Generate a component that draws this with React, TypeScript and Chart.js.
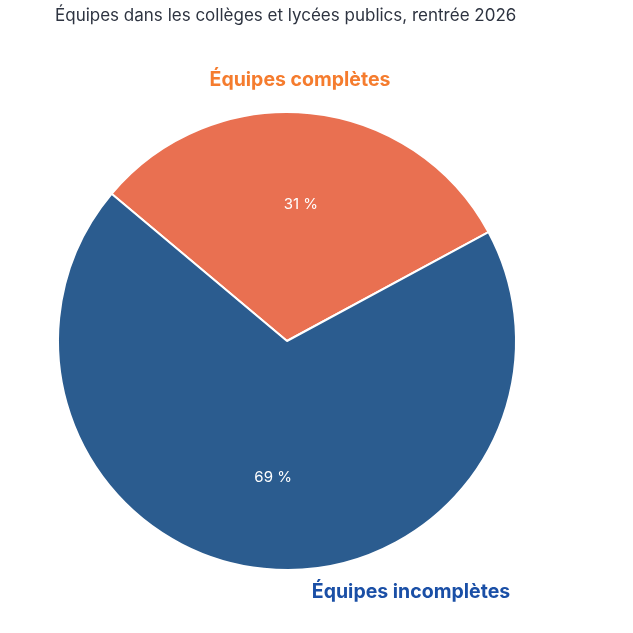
import { useEffect, useRef } from "react";
import { Chart, registerables } from "chart.js";
import type { Plugin } from "chart.js";

Chart.register(...registerables);

const TITLE = "Équipes dans les collèges et lycées publics, rentrée 2026";
const LABELS = ["Équipes complètes", "Équipes incomplètes"];
const VALUES = [31, 69];
const SLICE_COLORS = ["#E97051", "#2B5C8F"];
const LABEL_COLORS = ["#F57C2E", "#1A4FA6"];

// labels, percentages and title drawn on the canvas
const textPlugin: Plugin<"pie"> = {
  id: "pieText",
  afterDatasetsDraw(chart) {
    const ctx = chart.ctx;
    const arcs = chart.getDatasetMeta(0).data as any[];
    ctx.save();
    ctx.textAlign = "center";
    ctx.textBaseline = "middle";

    ctx.font = "15px Inter, 'Noto Sans', sans-serif";
    ctx.fillStyle = "#FFFFFF";
    arcs.forEach((arc, i) => {
      const { x, y, startAngle, endAngle, outerRadius } = arc.getProps(
        ["x", "y", "startAngle", "endAngle", "outerRadius"],
        true
      );
      const mid = (startAngle + endAngle) / 2;
      const r = outerRadius * 0.6;
      ctx.fillText(`${VALUES[i]} %`, x + Math.cos(mid) * r, y + Math.sin(mid) * r);
    });

    const c = arcs[0];
    ctx.font = "bold 19.5px Inter, 'Noto Sans', sans-serif";
    ctx.fillStyle = LABEL_COLORS[0];
    ctx.fillText(LABELS[0], c.x + 13, c.y - 261);
    ctx.fillStyle = LABEL_COLORS[1];
    ctx.fillText(LABELS[1], c.x + 124, c.y + 251);

    ctx.textAlign = "left";
    ctx.font = "17px Inter, 'Noto Sans', sans-serif";
    ctx.fillStyle = "#2E3441";
    ctx.fillText(TITLE, 55, 16);
    ctx.restore();
  },
};

function PieChart() {
  const canvasRef = useRef<HTMLCanvasElement>(null);

  useEffect(() => {
    if (!canvasRef.current) return;
    const chart = new Chart(canvasRef.current, {
      type: "pie",
      data: {
        labels: LABELS,
        datasets: [
          {
            data: VALUES,
            backgroundColor: SLICE_COLORS,
            borderColor: "#FFFFFF",
            borderWidth: 2,
          },
        ],
      },
      options: {
        responsive: true,
        maintainAspectRatio: false,
        animation: false,
        rotation: -50,
        layout: { padding: { left: 57, right: 116, top: 111, bottom: 62 } },
        plugins: {
          legend: { display: false },
          tooltip: { enabled: false },
        },
      },
      plugins: [textPlugin],
    });
    return () => chart.destroy();
  }, []);

  return (
    <div style={{ position: "absolute", left: 0, top: 0, width: 633, height: 633, background: "#fff" }}>
      <canvas ref={canvasRef} role="img" aria-label={TITLE} />
    </div>
  );
}

export default function App() {
  return <PieChart />;
}
